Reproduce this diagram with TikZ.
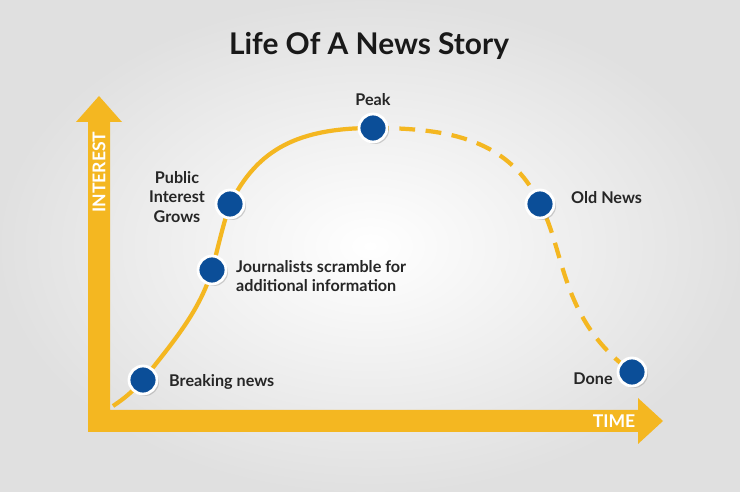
\documentclass[tikz,border=0pt]{standalone}
\usepackage{fontspec}
\setmainfont{Lato}
\usetikzlibrary{shadows}
\definecolor{axisgold}{HTML}{F4B721}
\definecolor{dotblue}{HTML}{0B4E98}
\tikzset{
  dot/.style={circle, fill=dotblue, draw=white, line width=1.6pt, minimum size=0.56cm, inner sep=0pt, drop shadow={opacity=0.35, shadow xshift=0.04cm, shadow yshift=-0.04cm}},
  lbl/.style={font=\bfseries\fontsize{9.2}{11}\selectfont, text=black!85, align=center},
  curve/.style={axisgold, line width=2.4pt}
}
\begin{document}
\begin{tikzpicture}[x=0.02cm, y=-0.02cm]
  \useasboundingbox (0,0) rectangle (740,492);
  \shade[inner color=white, outer color=black!12] (0,0) rectangle (740,492);
  \node[font=\bfseries\fontsize{17}{20}\selectfont, text=black!90] (title) at (369,46) {Life Of A News Story};
  % axes
  \fill[axisgold] (88,432) -- (88,122) -- (76,122) -- (99,96) -- (122,122) -- (110,122)
    -- (110,410) -- (638,410) -- (638,398) -- (663,421) -- (638,444) -- (638,432) -- cycle;
  \node[rotate=90, text=white, font=\bfseries\fontsize{10}{12}\selectfont] (interest) at (99,172) {INTEREST};
  \node[text=white, font=\bfseries\fontsize{10}{12}\selectfont] (time) at (614,421) {TIME};
  % curve
  \coordinate (start) at (113,406);
  \coordinate (breaking) at (143,380);
  \coordinate (scramble) at (212,270);
  \coordinate (grows) at (230,204);
  \coordinate (peak) at (373,128);
  \coordinate (old) at (540,204);
  \coordinate (done) at (632,372);
  \draw[curve] (start) .. controls (125,398) and (132,392) .. (breaking)
    .. controls (175,340) and (200,310) .. (scramble)
    .. controls (218,248) and (222,228) .. (grows)
    .. controls (255,155) and (290,128) .. (peak);
  \draw[curve, dash pattern=on 9pt off 6pt] (peak) .. controls (450,128) and (510,140) .. (old)
    .. controls (565,250) and (560,320) .. (done);
  \foreach \n in {breaking, scramble, grows, peak, old, done}
    \node[dot] (d\n) at (\n) {};
  \node[lbl, anchor=west] (lbreaking) at (163,382) {Breaking news};
  \node[lbl, anchor=west, align=left] (lscramble) at (230,276) {Journalists scramble for\\additional information};
  \node[lbl] (lgrows) at (177,197) {Public\\Interest\\Grows};
  \node[lbl] (lpeak) at (373,100) {Peak};
  \node[lbl, anchor=west] (lold) at (565,198) {Old News};
  \node[lbl] (ldone) at (593,379) {Done};
\end{tikzpicture}
\end{document}
